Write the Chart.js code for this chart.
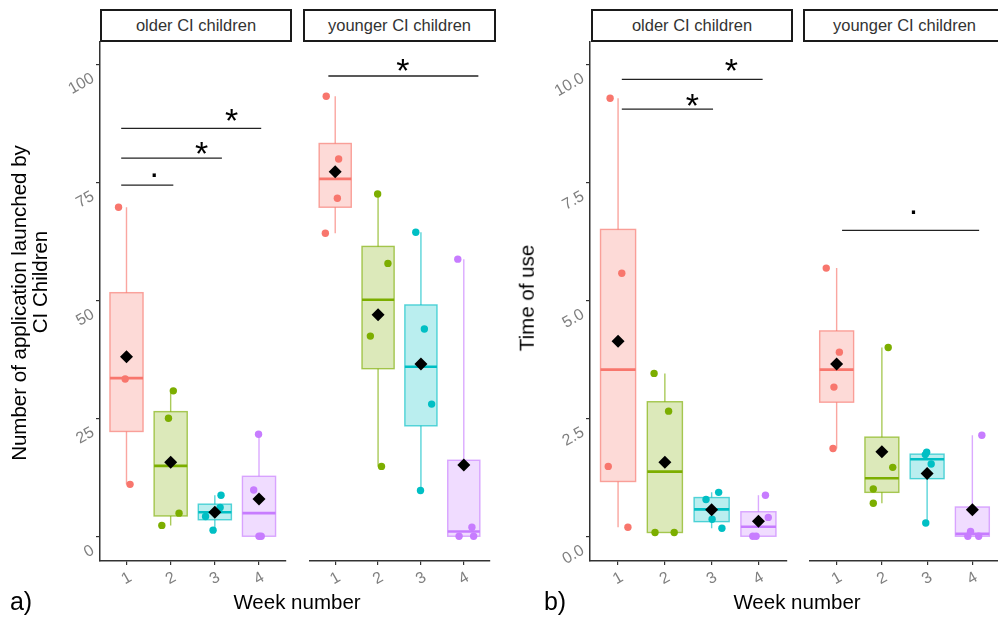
<!DOCTYPE html>
<html>
<head>
<meta charset="utf-8">
<script src="https://cdn.jsdelivr.net/npm/chart.js@4.4.0/dist/chart.umd.min.js"></script>
<style>
  body { margin: 0; width: 998px; height: 617px; overflow: hidden; background: #fff; position: relative; font-family: "Liberation Sans", Arial, sans-serif; }
  .c { position: absolute; top: 22px; height: 595px; }
  .strip { position: absolute; top: 9px; height: 33px; box-sizing: border-box; border: 2px solid #1a1a1a; background: #fff; text-align: center; font-size: 16.5px; line-height: 29px; color: #333; white-space: nowrap; overflow: hidden; }
  .t { position: absolute; white-space: nowrap; color: #000; line-height: 1; transform: translate(-50%, -50%); }
  .rot { transform: translate(-50%, -50%) rotate(-90deg); }
</style>
</head>
<body>
<div class="strip" style="left:100px;width:192px">older CI children</div>
<div class="strip" style="left:303px;width:193px">younger CI children</div>
<div class="strip" style="left:591px;width:202px">older CI children</div>
<div class="strip" style="left:803px;width:203px">younger CI children</div>

<div class="c" style="left:0;width:292px"><canvas id="aOld"></canvas></div>
<div class="c" style="left:303px;width:193px"><canvas id="aYoung"></canvas></div>
<div class="c" style="left:500px;width:293px"><canvas id="bOld"></canvas></div>
<div class="c" style="left:803px;width:203px"><canvas id="bYoung"></canvas></div>

<div class="t rot" style="left:19px;top:303px;font-size:20.5px">Number of application launched by</div>
<div class="t rot" style="left:40px;top:282px;font-size:20.5px">CI Children</div>
<div class="t rot" style="left:527px;top:298px;font-size:20.5px">Time of use</div>
<div class="t" style="left:297px;top:602px;font-size:20.5px">Week number</div>
<div class="t" style="left:797px;top:602px;font-size:20.5px">Week number</div>
<div class="t" style="left:21px;top:601px;font-size:25px">a)</div>
<div class="t" style="left:555px;top:601px;font-size:25px">b)</div>

<script>
const weeks = [ 1, 2, 3, 4 ]
const weekColors = [ '#F8766D', '#7CAE00', '#00BFC4', '#C77CFF' ]

const aTicks = [ 0, 25, 50, 75, 100 ]
const bTicks = [ 0, 2.5, 5, 7.5, 10 ]
const aRange = [ -5.24, 104.7 ]
const bRange = [ -0.524, 10.47 ]

// single observations per week: [jittered week, value]
const aOldPoints = [
  [ [0.82, 69.7], [0.97, 33.3], [1.08, 11.0] ],
  [ [2.06, 30.8], [1.95, 25.0], [2.19, 4.9], [1.80, 2.3] ],
  [ [3.14, 8.7], [3.12, 6.1], [2.79, 4.2], [2.96, 1.3] ],
  [ [3.99, 21.6], [3.88, 9.8], [4.05, 0], [4.0, 0] ]
]
const aYoungPoints = [
  [ [0.79, 93.2], [1.08, 79.9], [1.05, 71.6], [0.77, 64.2] ],
  [ [1.99, 72.5], [2.23, 57.8], [1.82, 42.4], [2.08, 14.8] ],
  [ [2.88, 64.4], [3.08, 43.9], [3.25, 28.0], [2.99, 9.7] ],
  [ [3.86, 58.7], [4.19, 1.9], [3.89, 0], [4.23, 0] ]
]
const bOldPoints = [
  [ [0.83, 9.28], [1.08, 5.57], [0.79, 1.48], [1.21, 0.19] ],
  [ [1.77, 3.45], [2.08, 2.65], [1.79, 0.08], [2.20, 0.08] ],
  [ [3.15, 0.93], [2.88, 0.78], [3.01, 0.36], [3.22, 0.17] ],
  [ [4.15, 0.87], [4.21, 0.40], [3.88, 0], [3.95, 0] ]
]
const bYoungPoints = [
  [ [0.77, 5.68], [1.06, 3.90], [0.94, 3.16], [0.92, 1.86] ],
  [ [2.14, 4.0], [2.24, 1.46], [1.81, 1.0], [1.81, 0.70] ],
  [ [2.99, 1.78], [2.96, 1.73], [3.09, 1.53], [2.97, 0.28] ],
  [ [4.21, 2.14], [3.96, 0.1], [4.14, 0], [3.90, 0] ]
]

// boxes: [lower whisker, q1, median, q3, upper whisker]
const aOldBox = [ [11.0, 22.2, 33.5, 51.6, 69.7], [2.3, 4.3, 14.9, 26.4, 30.8], [1.3, 3.5, 5.1, 6.8, 8.7], [0, 0, 4.9, 12.7, 21.6] ]
const aYoungBox = [ [64.2, 69.7, 75.7, 83.2, 93.2], [14.8, 35.5, 50.1, 61.4, 72.5], [9.7, 23.4, 35.9, 49.0, 64.4], [0, 0, 1.0, 16.1, 58.7] ]
const bOldBox = [ [0.19, 1.16, 3.53, 6.50, 9.28], [0.08, 0.08, 1.37, 2.85, 3.45], [0.17, 0.31, 0.57, 0.82, 0.93], [0, 0, 0.20, 0.52, 0.87] ]
const bYoungBox = [ [1.86, 2.84, 3.53, 4.35, 5.68], [0.70, 0.93, 1.23, 2.10, 4.0], [0.28, 1.22, 1.63, 1.74, 1.78], [0, 0, 0.05, 0.62, 2.14] ]

const aOldMean = [ 38.0, 15.7, 5.1, 7.9 ]
const aYoungMean = [ 77.2, 46.9, 36.5, 15.1 ]
const bOldMean = [ 4.13, 1.57, 0.56, 0.32 ]
const bYoungMean = [ 3.65, 1.79, 1.33, 0.56 ]

// significance: [from week, to week, bar value, label, label week, label value]
const aOldSig = [ [0.88, 2.06, 74.4, '.', 1.63, 76.5], [0.88, 3.16, 80.1, '*', 2.70, 82.8], [0.88, 4.05, 86.4, '*', 3.38, 89.8] ]
const aYoungSig = [ [0.84, 4.34, 97.5, '*', 2.58, 100.4] ]
const bOldSig = [ [1.08, 4.09, 9.68, '*', 3.42, 10.04], [1.08, 3.03, 9.05, '*', 2.59, 9.30] ]
const bYoungSig = [ [1.12, 4.15, 6.48, '.', 2.70, 6.86] ]

const fontFamily = '"Liberation Sans", Arial, sans-serif'

function fade(hex, a) {
  const n = parseInt(hex.slice(1), 16)
  return `rgba(${n >> 16}, ${(n >> 8) & 255}, ${n & 255}, ${a})`
}

function facet(id, points, box, means, sigs, range, ticks, yWidth, fmt) {
  const boxes = {
    id: 'boxes',
    beforeDatasetsDraw(chart) {
      const { ctx, scales: { x, y } } = chart
      box.forEach((b, i) => {
        const [lo, q1, med, q3, hi] = b.map(v => y.getPixelForValue(v))
        const xc = x.getPixelForValue(weeks[i])
        const xl = x.getPixelForValue(weeks[i] - 0.375)
        const xr = x.getPixelForValue(weeks[i] + 0.375)
        ctx.save()
        ctx.strokeStyle = fade(weekColors[i], 0.65)
        ctx.lineWidth = 1.4
        ctx.beginPath()
        ctx.moveTo(xc, hi)
        ctx.lineTo(xc, q3)
        ctx.moveTo(xc, q1)
        ctx.lineTo(xc, lo)
        ctx.stroke()
        ctx.fillStyle = fade(weekColors[i], 0.27)
        ctx.fillRect(xl, q3, xr - xl, q1 - q3)
        ctx.strokeRect(xl, q3, xr - xl, q1 - q3)
        ctx.strokeStyle = weekColors[i]
        ctx.lineWidth = 2.6
        ctx.beginPath()
        ctx.moveTo(xl, med)
        ctx.lineTo(xr, med)
        ctx.stroke()
        ctx.restore()
      })
    }
  }

  const signif = {
    id: 'signif',
    afterDatasetsDraw(chart) {
      const { ctx, scales: { x, y } } = chart
      sigs.forEach(([x1, x2, yv, label, lx, ly]) => {
        ctx.save()
        ctx.strokeStyle = '#222'
        ctx.lineWidth = 1.3
        ctx.beginPath()
        ctx.moveTo(x.getPixelForValue(x1), y.getPixelForValue(yv))
        ctx.lineTo(x.getPixelForValue(x2), y.getPixelForValue(yv))
        ctx.stroke()
        ctx.fillStyle = '#000'
        ctx.font = '34px ' + fontFamily
        ctx.textAlign = 'center'
        ctx.textBaseline = 'alphabetic'
        const shift = label === '*' ? 0.58 : 0.06
        ctx.fillText(label, x.getPixelForValue(lx), y.getPixelForValue(ly) + shift * 34)
        ctx.restore()
      })
    }
  }

  return new Chart(document.getElementById(id), {
    plugins: [boxes, signif],
    type: 'scatter',
    data: {
      datasets: [
        {
          data: means.map((m, i) => ({ x: weeks[i], y: m })),
          pointStyle: 'rectRot',
          pointRadius: 6.5,
          backgroundColor: '#000',
          borderWidth: 0
        },
        ...points.map((p, i) => ({
          data: p.map(([px, py]) => ({ x: px, y: py })),
          pointRadius: 3.7,
          backgroundColor: weekColors[i],
          borderWidth: 0
        }))
      ]
    },
    options: {
      animation: false,
      responsive: true,
      maintainAspectRatio: false,
      events: [],
      layout: { padding: { top: 20, left: 0, right: 0, bottom: 0 } },
      plugins: {
        legend: { display: false },
        tooltip: { enabled: false }
      },
      scales: {
        x: {
          type: 'linear',
          min: 0.4,
          max: 4.6,
          afterBuildTicks: s => { s.ticks = weeks.map(v => ({ value: v })) },
          afterFit: s => { s.height = 56 },
          grid: { display: true, drawOnChartArea: false, drawTicks: true, tickLength: 4, color: '#333', lineWidth: 1.2 },
          border: { display: true, color: '#333', width: 1.5 },
          ticks: {
            color: '#7f7f7f',
            font: { family: fontFamily, size: 16 },
            minRotation: 30,
            maxRotation: 30,
            padding: 3,
            labelOffset: 4,
            callback: v => String(v)
          }
        },
        y: {
          type: 'linear',
          display: yWidth > 0,
          min: range[0],
          max: range[1],
          afterBuildTicks: s => { s.ticks = ticks.map(v => ({ value: v })) },
          afterFit: s => { s.width = yWidth },
          grid: { display: true, drawOnChartArea: false, drawTicks: true, tickLength: 4, color: '#333', lineWidth: 1.2 },
          border: { display: true, color: '#333', width: 1.5 },
          ticks: {
            color: '#7f7f7f',
            font: { family: fontFamily, size: 16 },
            minRotation: 30,
            maxRotation: 30,
            padding: 3,
            labelOffset: 13,
            callback: fmt
          }
        }
      }
    }
  })
}

facet('aOld', aOldPoints, aOldBox, aOldMean, aOldSig, aRange, aTicks, 100, v => String(v))
facet('aYoung', aYoungPoints, aYoungBox, aYoungMean, aYoungSig, aRange, aTicks, 0, v => String(v))
facet('bOld', bOldPoints, bOldBox, bOldMean, bOldSig, bRange, bTicks, 90, v => v.toFixed(1))
facet('bYoung', bYoungPoints, bYoungBox, bYoungMean, bYoungSig, bRange, bTicks, 0, v => v.toFixed(1))
</script>
</body>
</html>
